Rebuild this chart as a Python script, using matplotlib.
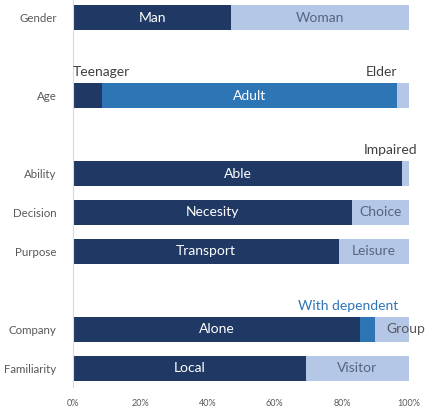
import numpy as np
import matplotlib.pyplot as plt

plt.rcParams['font.family'] = ['Lato', 'DejaVu Sans']

# data (shares in %)
rows = ["Gender", "Age", "Ability", "Decision", "Purpose", "Company", "Familiarity"]

gender_labels = ["Man", "Woman"]
gender_values = [47.1, 52.9]
age_labels = ["Teenager", "Adult", "Elder"]
age_values = [8.7, 87.7, 3.6]
ability_labels = ["Able", "Impaired"]
ability_values = [97.9, 2.1]
decision_labels = ["Necesity", "Choice"]
decision_values = [83.0, 17.0]
purpose_labels = ["Transport", "Leisure"]
purpose_values = [79.0, 21.0]
company_labels = ["Alone", "With dependent", "Group"]
company_values = [85.5, 4.2, 10.3]
familiarity_labels = ["Local", "Visitor"]
familiarity_values = [69.2, 30.8]

all_labels = [gender_labels, age_labels, ability_labels, decision_labels,
              purpose_labels, company_labels, familiarity_labels]
all_values = [gender_values, age_values, ability_values, decision_values,
              purpose_values, company_values, familiarity_values]

# layout: empty slots between groups
slots = [0, 2, 4, 5, 6, 8, 9]

DARK = '#1F3864'
MID = '#2E75B6'
LIGHT = '#B4C7E7'
FS = 10

fig = plt.figure(figsize=(4.28, 4.08), dpi=100)
ax = fig.add_axes([0.171, 0.052, 0.785, 0.948])

for y, labels, vals in zip(slots, all_labels, all_values):
    vals = np.array(vals) / 100
    if len(vals) == 3:
        colors = [DARK, MID, LIGHT]
    else:
        colors = [DARK, LIGHT]
    left = 0
    for lab, v, c in zip(labels, vals, colors):
        ax.barh(y, v, left=left, height=0.64, color=c)
        txtcol = '#55657f' if c == LIGHT else 'white'
        cx = left + v / 2
        if v >= 0.12:
            ax.text(cx, y, lab, ha='center', va='center', color=txtcol, fontsize=FS)
        elif lab == "Teenager":
            ax.text(left, y - 0.6, lab, ha='left', va='center', color='#404040', fontsize=FS)
        elif lab == "Elder":
            ax.text(left, y - 0.6, lab, ha='right', va='center', color='#404040', fontsize=FS)
        elif lab == "Impaired":
            ax.text(left + v + 0.025, y - 0.6, lab, ha='right', va='center', color='#404040', fontsize=FS)
        elif lab == "With dependent":
            ax.text(left + v + 0.07, y - 0.6, lab, ha='right', va='center', color=MID, fontsize=FS)
        elif lab == "Group":
            ax.text(left + 0.036, y, lab, ha='left', va='center', color='#595959', fontsize=FS)
        left += v

ax.set_xlim(0, 1)
ax.set_ylim(9.47, -0.45)
ax.set_yticks(slots)
ax.set_yticklabels(rows, fontsize=8.3, color='#595959')
ax.set_xticks(np.arange(0, 1.01, 0.2))
ax.set_xticklabels([f"{int(t*100)}%" for t in np.arange(0, 1.01, 0.2)], fontsize=6.5, color='#595959')
ax.tick_params(axis='y', length=0, pad=12)
ax.tick_params(axis='x', length=0, pad=9)
for s in ['top', 'right', 'bottom']:
    ax.spines[s].set_visible(False)
ax.spines['left'].set_color('#d9d9d9')

fig.savefig('out.png', dpi=100)
